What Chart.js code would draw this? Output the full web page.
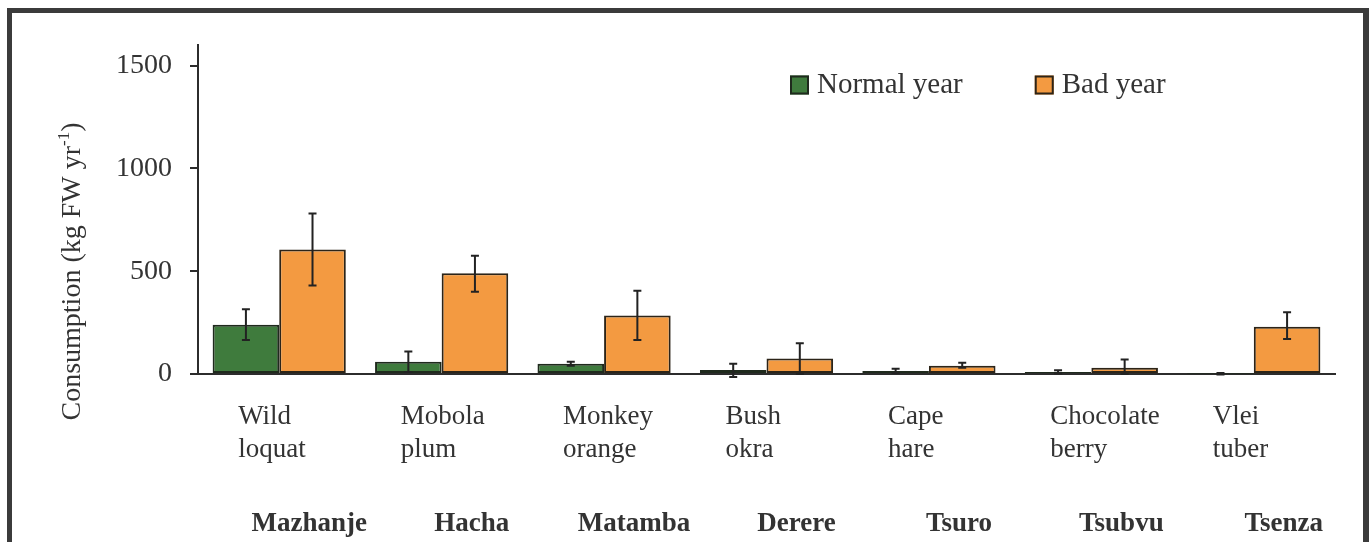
<!DOCTYPE html>
<html>
<head>
<meta charset="utf-8">
<script src="https://cdn.jsdelivr.net/npm/chart.js@4.4.0/dist/chart.umd.min.js"></script>
<style>
  html, body { margin: 0; padding: 0; background: #ffffff; overflow: hidden; }
  #wrap { position: relative; width: 1372px; height: 542px; }
  #c { position: absolute; left: 0; top: 0; }
  #frame {
    position: absolute; left: 7px; top: 8px; width: 1351px; height: 560px;
    border-left: 5px solid #3b3b3b; border-top: 5px solid #3b3b3b; border-right: 6px solid #3b3b3b;
    pointer-events: none;
  }
</style>
</head>
<body>
<div id="wrap">
  <canvas id="c" width="1372" height="542"></canvas>
  <div id="frame"></div>
</div>
<script>
// Wild food consumption per household, normal vs. bad year
const commonNames = [
  ['Wild', 'loquat'], ['Mobola', 'plum'], ['Monkey', 'orange'], ['Bush', 'okra'],
  ['Cape', 'hare'], ['Chocolate', 'berry'], ['Vlei', 'tuber']
];
const localNames = ['Mazhanje', 'Hacha', 'Matamba', 'Derere', 'Tsuro', 'Tsubvu', 'Tsenza'];

const normalYear     = [240,  60,  50,  20, 15, 10,   1];
const normalYearLow  = [165,  10,  40, -15,  5,  2,  -3];
const normalYearHigh = [315, 110,  60,  50, 25, 18,   5];

const badYear        = [605, 490, 285,  75, 40, 30, 230];
const badYearLow     = [430, 400, 165,   0, 30,  0, 170];
const badYearHigh    = [780, 575, 405, 150, 55, 70, 300];

const yTicks = [0, 500, 1000, 1500];

const SERIF = '"Liberation Serif", "Times New Roman", "DejaVu Serif", serif';
const TEXT = '#333333';
const INK = '#222222';

// Whiskers drawn from each dataset's low/high arrays through the y scale
const errorBarPlugin = {
  id: 'errorBars',
  afterDatasetsDraw(chart, args, opts) {
    const { ctx } = chart;
    const yScale = chart.scales.y;
    ctx.save();
    ctx.strokeStyle = opts.color;
    ctx.lineWidth = opts.lineWidth;
    chart.data.datasets.forEach((ds, i) => {
      const meta = chart.getDatasetMeta(i);
      meta.data.forEach((bar, j) => {
        const x = bar.x;
        const yLo = yScale.getPixelForValue(ds.errorLow[j]);
        const yHi = yScale.getPixelForValue(ds.errorHigh[j]);
        ctx.beginPath();
        ctx.moveTo(x, yLo); ctx.lineTo(x, yHi);
        ctx.moveTo(x - opts.cap, yHi); ctx.lineTo(x + opts.cap, yHi);
        ctx.moveTo(x - opts.cap, yLo); ctx.lineTo(x + opts.cap, yLo);
        ctx.stroke();
      });
    });
    ctx.restore();
  }
};

// Legend placed inside the plot, upper right
const cornerLegendPlugin = {
  id: 'cornerLegend',
  afterDraw(chart, args, opts) {
    const { ctx, chartArea } = chart;
    ctx.save();
    ctx.font = opts.font;
    ctx.textBaseline = 'middle';
    ctx.textAlign = 'left';
    let x = chartArea.left + opts.left;
    const yMid = chartArea.top + opts.top;
    chart.data.datasets.forEach(ds => {
      const b = opts.box;
      ctx.fillStyle = ds.backgroundColor;
      ctx.fillRect(x, yMid - b / 2, b, b);
      ctx.lineWidth = 2;
      ctx.strokeStyle = ds.borderColor;
      ctx.strokeRect(x + 1, yMid - b / 2 + 1, b - 2, b - 2);
      x += b + opts.textGap;
      ctx.fillStyle = opts.color;
      ctx.fillText(ds.label, x, yMid);
      x += ctx.measureText(ds.label).width + opts.itemGap;
    });
    ctx.restore();
  }
};

// Rotated y-axis title with a superscript exponent
const yTitlePlugin = {
  id: 'yTitle',
  afterDraw(chart, args, opts) {
    const { ctx, chartArea } = chart;
    ctx.save();
    ctx.translate(opts.x, (chartArea.top + chartArea.bottom) / 2 + opts.dy);
    ctx.rotate(-Math.PI / 2);
    ctx.fillStyle = opts.color;
    ctx.textAlign = 'left';
    ctx.textBaseline = 'alphabetic';
    ctx.font = opts.font;
    const w1 = ctx.measureText(opts.text).width;
    const w3 = ctx.measureText(opts.after).width;
    ctx.font = opts.supFont;
    const w2 = ctx.measureText(opts.sup).width;
    let x = -(w1 + w2 + w3) / 2;
    ctx.font = opts.font;
    ctx.fillText(opts.text, x, 0);
    x += w1;
    ctx.font = opts.supFont;
    ctx.fillText(opts.sup, x, -opts.supRaise);
    x += w2;
    ctx.font = opts.font;
    ctx.fillText(opts.after, x, 0);
    ctx.restore();
  }
};

new Chart(document.getElementById('c'), {
  type: 'bar',
  data: {
    labels: commonNames,
    datasets: [
      {
        label: 'Normal year', data: normalYear,
        backgroundColor: '#3f7b3d', borderColor: '#1f2a1d', borderWidth: 2, borderSkipped: false,
        errorLow: normalYearLow, errorHigh: normalYearHigh
      },
      {
        label: 'Bad year', data: badYear,
        backgroundColor: '#f39a41', borderColor: '#2c2418', borderWidth: 2, borderSkipped: false,
        errorLow: badYearLow, errorHigh: badYearHigh
      }
    ]
  },
  options: {
    responsive: false,
    animation: false,
    categoryPercentage: 0.82,
    barPercentage: 1.0,
    layout: { padding: { left: 0, right: 37, top: 45, bottom: 0 } },
    plugins: {
      legend: { display: false },
      tooltip: { enabled: false },
      errorBars: { color: INK, lineWidth: 2, cap: 4 },
      cornerLegend: {
        font: '29px ' + SERIF, color: TEXT,
        left: 592, top: 40, box: 19, textGap: 8, itemGap: 72
      },
      yTitle: {
        text: 'Consumption (kg FW yr', sup: '-1', after: ')',
        font: '28px ' + SERIF, supFont: '17px ' + SERIF, supRaise: 11,
        color: TEXT, x: 80, dy: 62
      }
    },
    scales: {
      x: {
        type: 'category',
        position: 'bottom',
        weight: 0,
        offset: true,
        grid: { display: false, drawTicks: false },
        border: { display: true, color: '#2c2c2c', width: 2 },
        ticks: {
          autoSkip: false, maxRotation: 0, minRotation: 0,
          align: 'start', labelOffset: -41, padding: 26,
          color: TEXT, font: { family: SERIF, size: 27, lineHeight: 1.22 }
        },
        afterFit(scale) { scale.height = 110; }
      },
      x2: {
        type: 'category',
        position: 'bottom',
        weight: 1,
        labels: localNames,
        offset: true,
        grid: { display: false, drawTicks: false },
        border: { display: false },
        ticks: {
          autoSkip: false, maxRotation: 0, minRotation: 0,
          labelOffset: 30, padding: 24,
          color: TEXT, font: { family: SERIF, size: 27, weight: 'bold' }
        },
        afterFit(scale) { scale.height = 58; }
      },
      y: {
        position: 'left',
        min: 0,
        max: 1600,
        grid: { drawOnChartArea: false, drawTicks: true, tickLength: 8, color: '#2c2c2c', lineWidth: 2 },
        border: { display: true, color: '#2c2c2c', width: 2 },
        ticks: {
          padding: 18, color: TEXT, font: { family: SERIF, size: 28 },
          callback: v => String(v)
        },
        afterBuildTicks(scale) { scale.ticks = yTicks.map(v => ({ value: v })); },
        afterFit(scale) { scale.width = 198; }
      }
    }
  },
  plugins: [errorBarPlugin, cornerLegendPlugin, yTitlePlugin]
});
</script>
</body>
</html>
